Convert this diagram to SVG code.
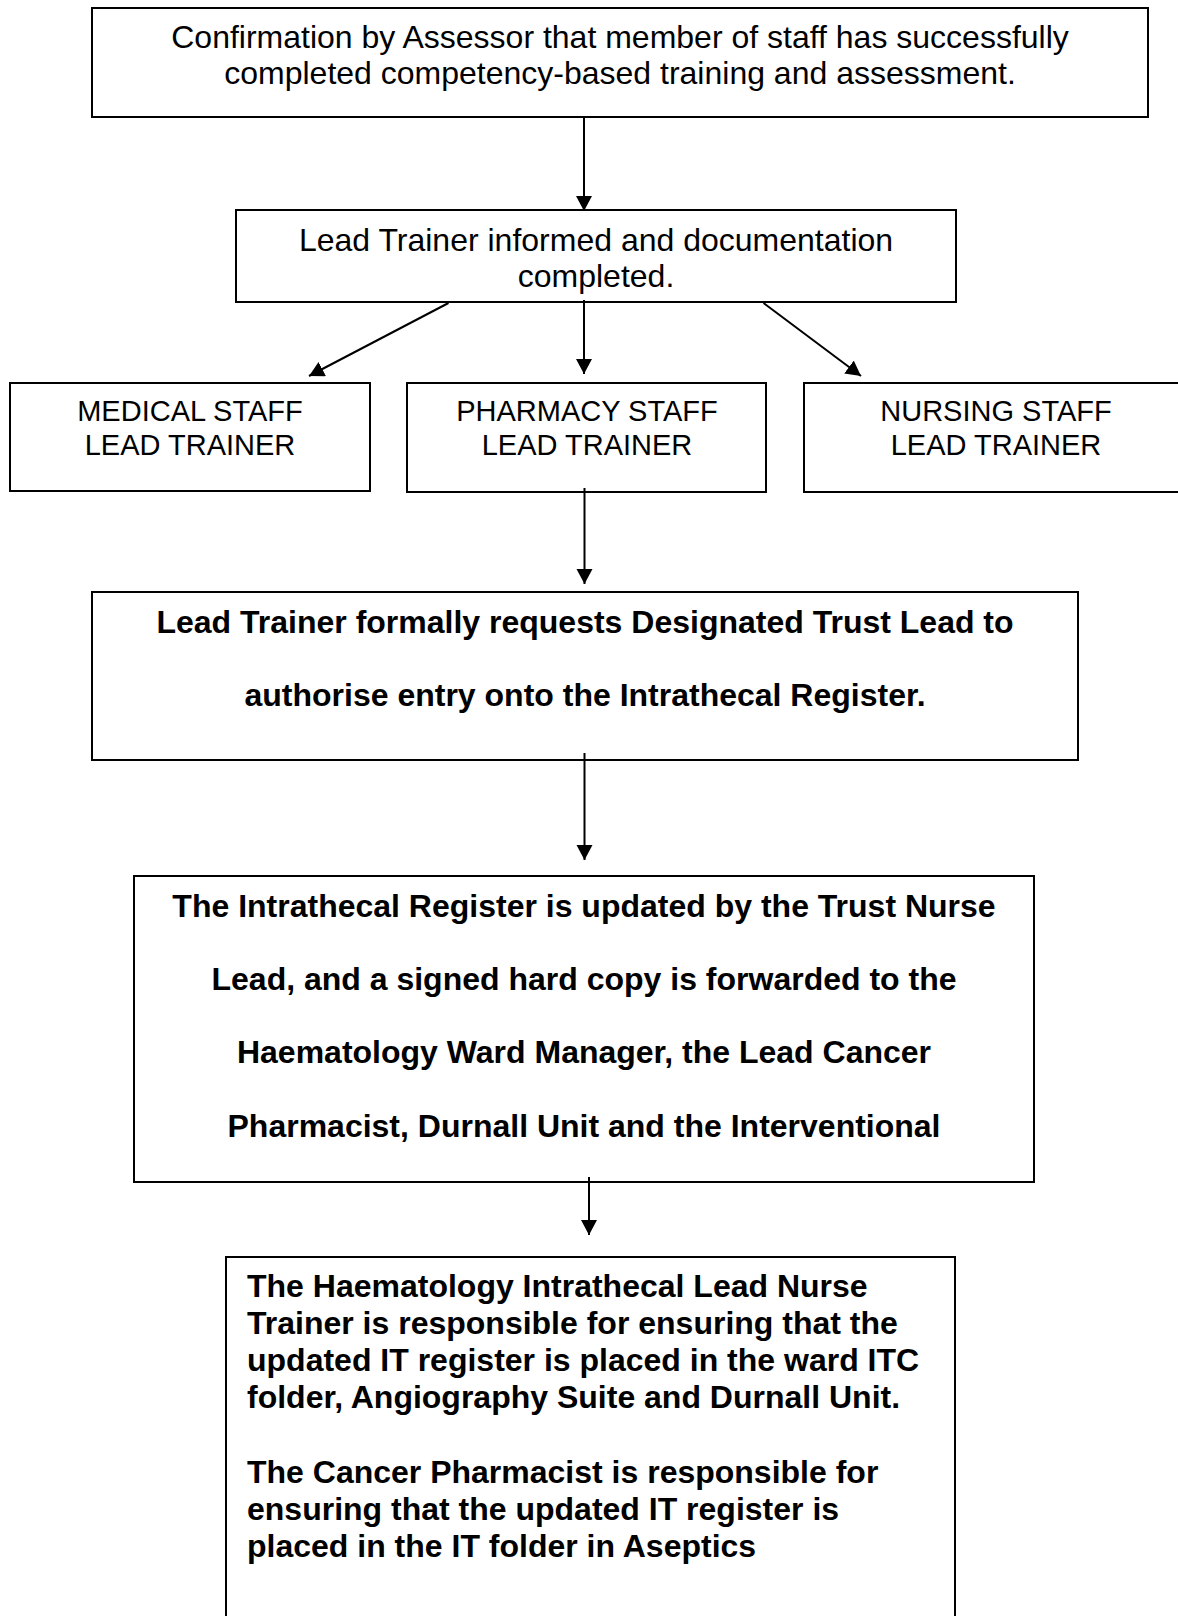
<svg xmlns="http://www.w3.org/2000/svg" width="1178" height="1616" viewBox="0 0 1178 1616">
  <style>
    .box { fill: #ffffff; stroke: #000000; stroke-width: 2; }
    .t { font-family: "Liberation Sans", Arial, sans-serif; font-size: 32px; fill: #000000; }
    .tc { text-anchor: middle; }
    .s { font-size: 29px; }
    .b { font-weight: bold; }
    .conn { stroke: #000000; stroke-width: 2; fill: none; marker-end: url(#arrow); }
  </style>
  <defs>
    <marker id="arrow" markerUnits="userSpaceOnUse" markerWidth="18" markerHeight="18" refX="15" refY="8" orient="auto">
      <path d="M0,0 L15,8 L0,16 z" fill="#000000"/>
    </marker>
  </defs>
  <rect width="1178" height="1616" fill="#ffffff"/>

  <g id="n1">
    <rect class="box" x="92" y="8" width="1056" height="109"/>
    <text class="t tc" x="620" y="48">Confirmation by Assessor that member of staff has successfully</text>
    <text class="t tc" x="620" y="84">completed competency-based training and assessment.</text>
  </g>

  <g id="n2">
    <rect class="box" x="236" y="210" width="720" height="92"/>
    <text class="t tc" x="596" y="251">Lead Trainer informed and documentation</text>
    <text class="t tc" x="596" y="287">completed.</text>
  </g>

  <g id="n3">
    <rect class="box" x="10" y="383" width="360" height="108"/>
    <text class="t s tc" x="190" y="421">MEDICAL STAFF</text>
    <text class="t s tc" x="190" y="455">LEAD TRAINER</text>
  </g>

  <g id="n4">
    <rect class="box" x="407" y="383" width="359" height="109"/>
    <text class="t s tc" x="587" y="421">PHARMACY STAFF</text>
    <text class="t s tc" x="587" y="455">LEAD TRAINER</text>
  </g>

  <g id="n5">
    <rect class="box" x="804" y="383" width="380" height="109"/>
    <text class="t s tc" x="996" y="421">NURSING STAFF</text>
    <text class="t s tc" x="996" y="455">LEAD TRAINER</text>
  </g>

  <g id="n6">
    <rect class="box" x="92" y="592" width="986" height="168"/>
    <text class="t b tc" x="585" y="633">Lead Trainer formally requests Designated Trust Lead to</text>
    <text class="t b tc" x="585" y="706">authorise entry onto the Intrathecal Register.</text>
  </g>

  <g id="n7">
    <rect class="box" x="134" y="876" width="900" height="306"/>
    <text class="t b tc" x="584" y="917">The Intrathecal Register is updated by the Trust Nurse</text>
    <text class="t b tc" x="584" y="990">Lead, and a signed hard copy is forwarded to the</text>
    <text class="t b tc" x="584" y="1063">Haematology Ward Manager, the Lead Cancer</text>
    <text class="t b tc" x="584" y="1137">Pharmacist, Durnall Unit and the Interventional</text>
  </g>

  <g id="n8">
    <rect class="box" x="226" y="1257" width="729" height="400"/>
    <text class="t b" x="247" y="1297">The Haematology Intrathecal Lead Nurse</text>
    <text class="t b" x="247" y="1334">Trainer is responsible for ensuring that the</text>
    <text class="t b" x="247" y="1371">updated IT register is placed in the ward ITC</text>
    <text class="t b" x="247" y="1408">folder, Angiography Suite and Durnall Unit.</text>
    <text class="t b" x="247" y="1483">The Cancer Pharmacist is responsible for</text>
    <text class="t b" x="247" y="1520">ensuring that the updated IT register is</text>
    <text class="t b" x="247" y="1557">placed in the IT folder in Aseptics</text>
  </g>

  <g id="connectors">
    <line class="conn" x1="584" y1="117" x2="584" y2="211"/>
    <line class="conn" x1="448.5" y1="303" x2="309" y2="376"/>
    <line class="conn" x1="584" y1="300" x2="584" y2="374"/>
    <line class="conn" x1="763.5" y1="303" x2="861" y2="376"/>
    <line class="conn" x1="584.5" y1="488" x2="584.5" y2="584"/>
    <line class="conn" x1="584.5" y1="753" x2="584.5" y2="860"/>
    <line class="conn" x1="589" y1="1177" x2="589" y2="1235"/>
  </g>
</svg>
